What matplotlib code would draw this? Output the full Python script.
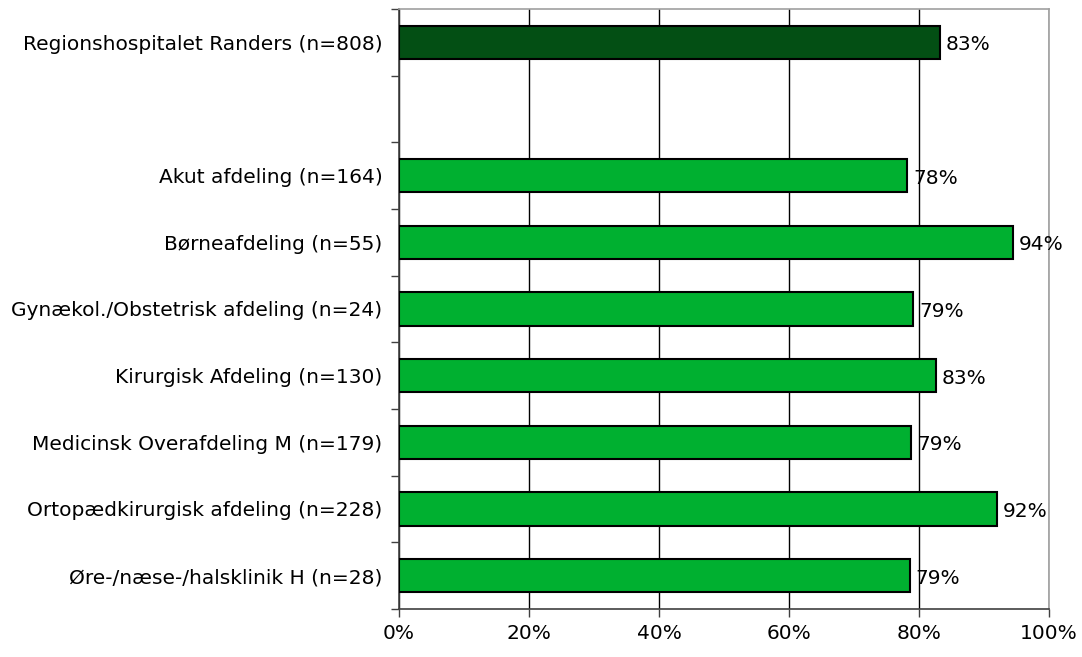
import matplotlib.pyplot as plt
from matplotlib.ticker import FixedLocator, PercentFormatter

# kategorier (tom plads mellem hospitalet og afdelingerne)
labels = ["Regionshospitalet Randers (n=808)", "",
          "Akut afdeling (n=164)", "Børneafdeling (n=55)",
          "Gynækol./Obstetrisk afdeling (n=24)", "Kirurgisk Afdeling (n=130)",
          "Medicinsk Overafdeling M (n=179)", "Ortopædkirurgisk afdeling (n=228)",
          "Øre-/næse-/halsklinik H (n=28)"]
values = [83.2, None, 78.2, 94.4, 79.1, 82.6, 78.8, 92.0, 78.6]
colors = ["#034f14", None] + ["#00b030"] * 7

plt.rcParams['font.family'] = ['DejaVu Sans']
fig = plt.figure(figsize=(10.82, 6.57), dpi=100)
ax = fig.add_axes([399/1082, 1-609/657, 650/1082, 600/657])

for i, v in enumerate(values):
    if v is None:
        continue
    ax.barh(i, v, height=0.5, color=colors[i], edgecolor="black", linewidth=1.5, zorder=3)
    ax.text(v + 0.9, i + 0.04, "%d%%" % round(v), va="center", ha="left", fontsize=14.5, zorder=4)

ax.set_xlim(0, 100)
ax.set_ylim(len(labels) - 0.5, -0.5)
ax.set_xticks([0, 20, 40, 60, 80, 100])
ax.xaxis.set_major_formatter(PercentFormatter(decimals=0))
ax.set_yticks(range(len(labels)))
ax.set_yticklabels(labels, fontsize=14.5)
ax.yaxis.set_minor_locator(FixedLocator([i - 0.5 for i in range(len(labels) + 1)]))
ax.tick_params(axis="y", which="major", length=0, pad=12)
ax.tick_params(axis="y", which="minor", length=6, width=1, color="#404040", direction="out")
ax.tick_params(axis="x", length=6, width=1, color="#404040", pad=5, labelsize=14.5)

ax.grid(axis="x", color="black", linewidth=1, zorder=0)
for s in ["left", "bottom"]:
    ax.spines[s].set_color("#404040")
    ax.spines[s].set_linewidth(1.2)
for s in ["top", "right"]:
    ax.spines[s].set_color("#a0a0a0")
    ax.spines[s].set_linewidth(1.2)

plt.savefig("out.png", dpi=100)
